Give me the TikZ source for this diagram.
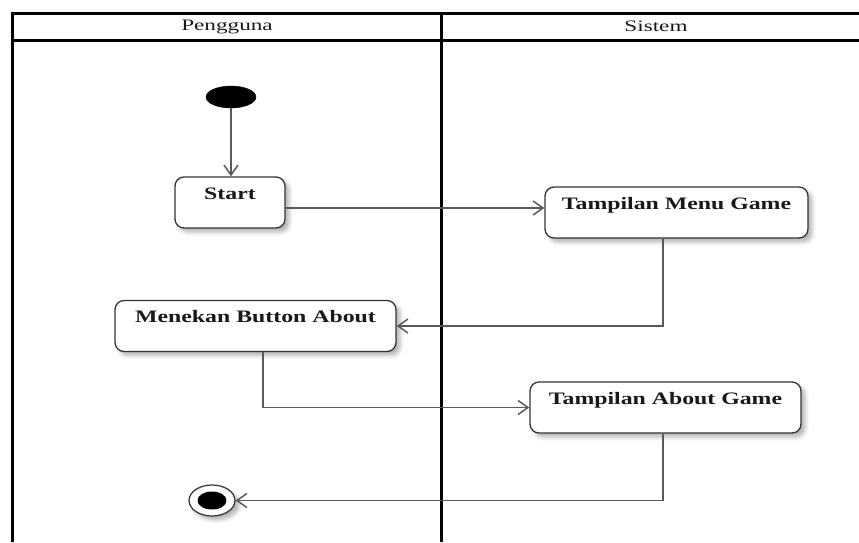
\documentclass[tikz,border=0pt]{standalone}
\usepackage{fontspec}
\setmainfont{Liberation Serif}
\newfontfamily\hdrfont[FakeStretch=1.45]{Liberation Serif}
\newfontfamily\actfont[FakeStretch=1.36]{Liberation Serif}
\usetikzlibrary{arrows.meta,shapes.geometric,shadows.blur}

\begin{document}
\begin{tikzpicture}[x=1pt,y=-1pt,
  lane/.style={line width=3pt, draw=black},
  lanetitle/.style={font=\hdrfont\fontsize{16}{18}\selectfont, text=black!90, inner sep=0pt},
  softshadow/.style={blur shadow={shadow xshift=4pt, shadow yshift=-4pt, shadow blur radius=4pt, shadow opacity=30}},
  action/.style={draw=black!80, line width=1.3pt, rounded corners=9pt, fill=white,
    inner sep=0pt, text height=22pt, text depth=29pt, softshadow,
    font=\actfont\bfseries\fontsize{17.5}{20}\selectfont, text=black!90},
  initial/.style={ellipse, fill=black, draw=black, minimum width=50pt, minimum height=22pt, inner sep=0pt},
  finalring/.style={ellipse, fill=white, draw=black!80, line width=1.2pt, minimum width=46pt, minimum height=31pt, inner sep=0pt, softshadow},
  finaldot/.style={ellipse, fill=black, minimum width=29pt, minimum height=18pt, inner sep=0pt},
  flow/.style={draw=black!65, line width=1.5pt, -{Straight Barb[length=10pt,width=14pt]}},
]
\useasboundingbox (0,0) rectangle (859,542);

% swimlane frame
\draw[lane] (859,13) -- (12,13) -- (12,542);
\draw[lane] (12,40) -- (859,40);
\draw[lane] (441,13) -- (441,542);
\node[lanetitle] (laneA) at (227,26.5) {Pengguna};
\node[lanetitle] (laneB) at (656,26.5) {Sistem};

% activities
\node[initial] (init) at (231,97) {};
\node[action, minimum width=110pt] (start) at (230,202.5) {Start};
\node[action, minimum width=263pt] (menu) at (676.5,212.5) {Tampilan Menu Game};
\node[action, minimum width=281pt] (press) at (255.5,326) {Menekan Button About};
\node[action, minimum width=271pt] (about) at (665.5,407.5) {Tampilan About Game};
\node[finalring] (final) at (212,500.5) {};
\node[finaldot] (finaldot) at (final.center) {};

% control flow
\draw[flow] (init) -- (init |- start.north);
\draw[flow] ([yshift=-5.5pt]start.east) -- ([yshift=-5.5pt]start.east -| menu.west);
\draw[flow] ([xshift=-13.5pt]menu.south) |- (press.east);
\draw[flow] ([xshift=7.5pt]press.south) |- (about.west);
\draw[flow] ([xshift=-2.5pt]about.south) |- (final.east);
\end{tikzpicture}
\end{document}
